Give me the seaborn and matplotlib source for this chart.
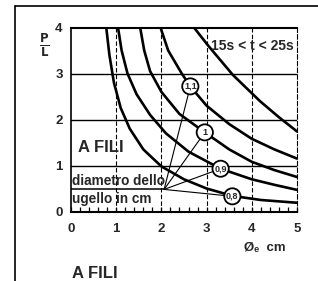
import matplotlib
matplotlib.use("Agg")
import matplotlib.pyplot as plt
import numpy as np
import pandas as pd
import seaborn as sns
from matplotlib.patches import Ellipse
from matplotlib.lines import Line2D
from matplotlib.ticker import MultipleLocator

# ---- data ----
curve_names = ["0,8", "0,9", "1", "1,1", "outer"]
x_08 = [0.78, 0.85, 0.95, 1.1, 1.3, 1.6, 2.0, 2.5, 3.0, 3.57, 4.2, 5.0]
y_08 = [4.0, 3.4, 2.8, 2.25, 1.8, 1.35, 0.98, 0.7, 0.5, 0.34, 0.25, 0.19]
x_09 = [1.04, 1.12, 1.25, 1.45, 1.75, 2.1, 2.6, 3.31, 4.0, 4.5, 5.0]
y_09 = [4.0, 3.5, 3.0, 2.55, 2.1, 1.7, 1.3, 0.93, 0.7, 0.58, 0.47]
x_10 = [1.53, 1.62, 1.75, 2.0, 2.4, 2.96, 3.5, 4.0, 4.5, 5.0]
y_10 = [4.0, 3.5, 3.05, 2.6, 2.12, 1.72, 1.35, 1.08, 0.9, 0.75]
x_11 = [1.98, 2.15, 2.45, 2.64, 3.0, 3.5, 4.0, 4.5, 5.0]
y_11 = [4.0, 3.5, 3.0, 2.72, 2.3, 1.9, 1.58, 1.35, 1.15]
x_12 = [2.72, 3.04, 3.58, 4.18, 4.6, 5.0]
y_12 = [4.0, 3.6, 2.97, 2.4, 2.05, 1.74]

label_texts = ["0,8", "0,9", "1", "1,1"]
label_x = [3.57, 3.31, 2.96, 2.64]
label_y = [0.33, 0.93, 1.72, 2.72]
pointer_origin = (2.06, 0.48)

x_ticks = [0, 1, 2, 3, 4, 5]
y_ticks = [0, 1, 2, 3, 4]

# ---- build frame ----
xs = [x_08, x_09, x_10, x_11, x_12]
ys = [y_08, y_09, y_10, y_11, y_12]
df = pd.concat([pd.DataFrame({"x": a, "y": b, "curve": n})
                for a, b, n in zip(xs, ys, curve_names)], ignore_index=True)

sns.set_style("white")
plt.rcParams["font.family"] = ["Liberation Sans", "DejaVu Sans"]
plt.rcParams["font.weight"] = "bold"

W, H = 318, 281
fig = plt.figure(figsize=(W / 100, H / 100), dpi=100)
ax = fig.add_axes([71 / W, 1 - 211.5 / H, (297 - 71) / W, (211.5 - 27.5) / H])

sns.lineplot(data=df, x="x", y="y", hue="curve", palette=["black"] * 5,
             legend=False, linewidth=1.9, estimator=None, ax=ax, zorder=3)

ax.set_xlim(0, 5)
ax.set_ylim(0, 4)
ax.set_xticks(x_ticks)
ax.set_yticks(y_ticks)
ax.set_xticklabels([str(v) for v in x_ticks], fontsize=9.5, fontweight="bold")
ax.set_yticklabels([str(v) for v in y_ticks], fontsize=9.5, fontweight="bold")
ax.xaxis.set_minor_locator(MultipleLocator(0.2))
ax.tick_params(axis="x", which="both", direction="in", length=3.5, width=0.9,
               pad=8, color="black", bottom=True)
ax.tick_params(axis="y", which="both", length=0, pad=6)
ax.set_xlabel("")
ax.set_ylabel("")

# grid
for yv in [1, 2, 3]:
    ax.axhline(yv, color="black", lw=1.0, zorder=1)
for xv in [1, 2, 3, 4]:
    ax.axvline(xv, color="black", lw=0.8, ls=(0, (4, 2)), zorder=1)

for s in ["top", "bottom"]:
    ax.spines[s].set_linewidth(1.5)
    ax.spines[s].set_color("black")
ax.spines["left"].set_linewidth(1.2)
ax.spines["left"].set_color("black")
ax.spines["right"].set_linewidth(0.8)
ax.spines["right"].set_linestyle((0, (4, 2)))
ax.spines["right"].set_color("black")

# pointers
ox, oy = pointer_origin
ax.plot([0, ox], [oy, oy], color="black", lw=1.1, zorder=2)
for lx, ly in zip(label_x, label_y):
    ax.plot([ox, lx], [oy, ly], color="black", lw=0.8, zorder=2)

# circled labels
for t, lx, ly in zip(label_texts, label_x, label_y):
    e = Ellipse((lx, ly), width=0.36, height=0.35, facecolor="white",
                edgecolor="black", lw=1.3, zorder=5)
    ax.add_patch(e)
    ax.text(lx, ly, t, ha="center", va="center", fontsize=6.5,
            fontweight="bold", zorder=6)

# texts in axes
ax.text(0.15, 1.4, "A FILI", fontsize=12, fontweight="bold", va="center",
        ha="left", zorder=4)
ax.text(0.02, 0.66, "diametro dello", fontsize=9.8, fontweight="bold",
        va="center", ha="left", zorder=4)
ax.text(0.02, 0.28, "ugello in cm", fontsize=9.8, fontweight="bold",
        va="center", ha="left", zorder=4)
ax.text(4.93, 3.6, "15s < t < 25s", fontsize=10, fontweight="bold",
        va="center", ha="right", zorder=4)

# figure texts
fig.text(265 / W, 1 - 248 / H, "Øₑ  cm", fontsize=9.5, fontweight="bold",
         ha="center", va="center")
fig.text(72 / W, 1 - 273 / H, "A FILI", fontsize=12, fontweight="bold",
         ha="left", va="center")
fig.text(44 / W, 1 - 45 / H, r"$\frac{\mathbf{P}}{\mathbf{L}}$", fontsize=12,
         ha="center", va="center")

# outer frame
fig.add_artist(Line2D([15 / W, 15 / W], [0, 1 - 6 / H], color="black", lw=1.2,
                      transform=fig.transFigure))
fig.add_artist(Line2D([15 / W, 1], [1 - 6 / H, 1 - 6 / H], color="black", lw=1.2,
                      transform=fig.transFigure))

fig.savefig("out.png", dpi=100, facecolor="white")
